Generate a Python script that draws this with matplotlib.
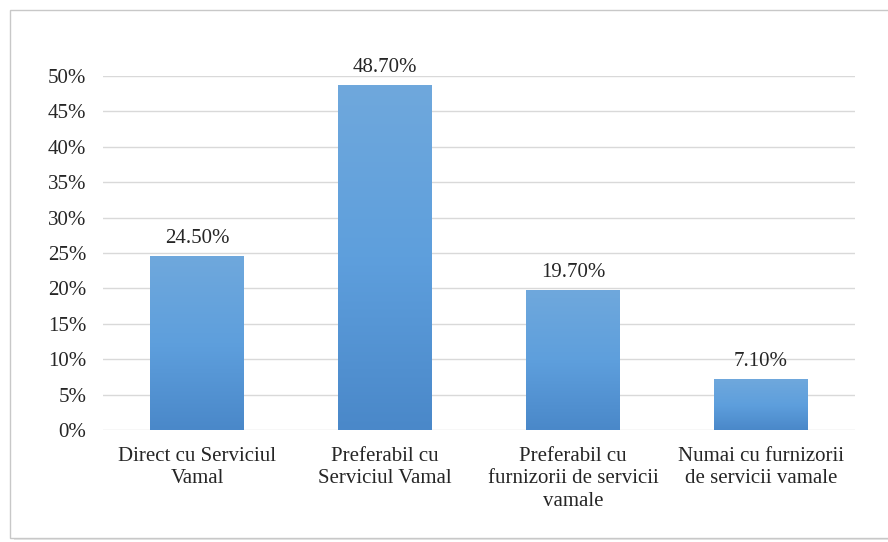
import matplotlib
matplotlib.use("Agg")
import matplotlib.pyplot as plt
import numpy as np
from matplotlib.patches import Rectangle
from matplotlib.colors import LinearSegmentedColormap

categories = ["Direct cu Serviciul\nVamal", "Preferabil cu\nServiciul Vamal",
              "Preferabil cu\nfurnizorii de servicii\nvamale", "Numai cu furnizorii\nde servicii vamale"]
values = [24.5, 48.7, 19.7, 7.1]
labels = ["24.50%", "48.70%", "19.70%", "7.10%"]
yticks = [0, 5, 10, 15, 20, 25, 30, 35, 40, 45, 50]

plt.rcParams['font.family'] = ['Liberation Serif', 'DejaVu Serif']

fig = plt.figure(figsize=(8.88, 5.42), dpi=100)
# frame with shadow
fig.patches.append(Rectangle((14/888, 0.004), 1.0, 1 - 18/542, transform=fig.transFigure,
                             facecolor='#e6e6e6', edgecolor='none', zorder=-3))
fig.patches.append(Rectangle((10/888, 0.008), 1.0, 1 - 14/542, transform=fig.transFigure,
                             facecolor='white', edgecolor='#c8c8c8', lw=1.0, zorder=-2))

ax = fig.add_axes([103/888, 1 - 430/542, 752/888, (430 - 76)/542])
ax.set_facecolor('none')
x = np.arange(len(values))
bars = ax.bar(x, values, width=0.5, color='#5b9bd5', zorder=2)
cmap = LinearSegmentedColormap.from_list('g', ['#4a88c9', '#5e9fdd', '#6fa8dc'])
grad = np.linspace(0, 1, 256).reshape(-1, 1)
for b in bars:
    x0, y0, w, h = b.get_x(), b.get_y(), b.get_width(), b.get_height()
    ax.imshow(grad, extent=(x0, x0 + w, y0, y0 + h), origin='lower', cmap=cmap,
              aspect='auto', zorder=3)
    b.set_alpha(0)
for xi, v, lab in zip(x, values, labels):
    ax.annotate(lab, (xi, v), xytext=(0, 6), textcoords='offset points',
                ha='center', va='bottom', fontsize=15, color='#262626')

ax.set_xlim(-0.5, 3.5)
ax.set_ylim(0, 50)
ax.set_yticks(yticks)
ax.set_yticklabels([f"{t}%" for t in yticks], fontsize=15, color='#262626')
ax.set_xticks(x)
ax.set_xticklabels(categories, fontsize=15, color='#262626', linespacing=1.25)
ax.tick_params(axis='x', length=0, pad=12)
ax.tick_params(axis='y', length=0, pad=12)
ax.yaxis.grid(True, color='#d9d9d9', lw=1, zorder=1)
ax.set_axisbelow(True)
for s in ax.spines.values():
    s.set_visible(False)

fig.savefig("out.png", dpi=100)
